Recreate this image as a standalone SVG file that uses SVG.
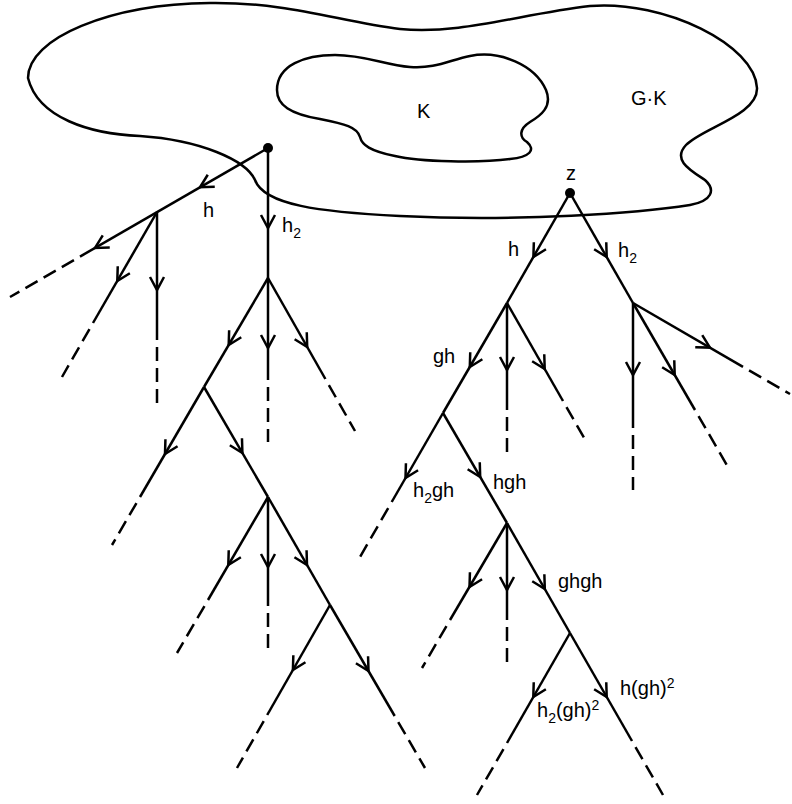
<svg xmlns="http://www.w3.org/2000/svg" xmlns:xlink="http://www.w3.org/1999/xlink" width="792" height="804" viewBox="0 0 792 804">
<style>
  .blob{fill:none;stroke:#000;stroke-width:2.5}
  .ln{stroke:#000;stroke-width:2.5;fill:none}
  .dash{stroke:#000;stroke-width:2.5;fill:none;stroke-dasharray:14 7;stroke-dashoffset:14}
  .ah{fill:none;stroke:#000;stroke-width:2.5}
  .lbl{font-family:"Liberation Sans",Arial,sans-serif;font-size:20px;fill:#000}
  .s{font-size:14px}
</style>
<defs>
  <path id="ah" class="ah" d="M-13,-7 L0,0 L-13,7"/>
</defs>
<rect width="792" height="804" fill="#fff"/>

<g id="region-GK">
  <path class="blob" d="M28,78 C28,38 110,4 210,3 C290,2 340,22 400,29 C460,35 520,14 590,6 C665,0 755,45 757,88 C758,115 702,128 686,145 C672,160 690,170 705,180 C716,190 712,201 690,205 C640,213 520,222 400,216 C320,212 264,205 255,180 C246,160 200,140 140,136 C90,134 38,118 28,78 Z"/>
  <text class="lbl" x="631" y="105">G·K</text>
</g>

<g id="region-K">
  <path class="blob" d="M277,90 C277,65 305,55 335,55 C365,55 385,65 410,67 C435,69 450,60 470,56 C500,50 535,65 546,90 C553,107 540,116 530,122 C519,129 519,137 527,142 C536,150 530,157 510,159 C480,163 420,162 395,156 C370,151 362,145 360,137 C357,127 345,124 320,119 C290,114 277,105 277,90 Z"/>
  <text class="lbl" x="417" y="118">K</text>
</g>

<g id="node-root">
  <circle cx="268" cy="148" r="5" fill="#000"/>
</g>

<g id="node-z">
  <circle cx="570" cy="193" r="5" fill="#000"/>
  <text class="lbl" x="566" y="180">z</text>
</g>

<g id="connectors">
  <!-- left tree -->
  <line class="ln" x1="268" y1="148" x2="80" y2="256.6"/>
  <line class="dash" x1="80" y1="256.6" x2="10" y2="297"/>
  <line class="ln" x1="157" y1="212" x2="157" y2="340"/>
  <line class="dash" x1="157" y1="340" x2="157" y2="403"/>
  <line class="ln" x1="157" y1="212" x2="93" y2="323"/>
  <line class="dash" x1="93" y1="323" x2="62" y2="377"/>
  <line class="ln" x1="268" y1="148" x2="268" y2="278"/>
  <line class="ln" x1="268" y1="278" x2="204" y2="387"/>
  <line class="ln" x1="268" y1="278" x2="268" y2="380"/>
  <line class="dash" x1="268" y1="380" x2="268" y2="442"/>
  <line class="ln" x1="268" y1="278" x2="325.4" y2="379"/>
  <line class="dash" x1="325.4" y1="379" x2="355" y2="431"/>
  <line class="ln" x1="204" y1="387" x2="140" y2="497"/>
  <line class="dash" x1="140" y1="497" x2="112" y2="545"/>
  <line class="ln" x1="204" y1="387" x2="268" y2="497"/>
  <line class="ln" x1="268" y1="497" x2="208" y2="600"/>
  <line class="dash" x1="208" y1="600" x2="177" y2="653"/>
  <line class="ln" x1="268" y1="497" x2="268" y2="606"/>
  <line class="dash" x1="268" y1="606" x2="268" y2="653"/>
  <line class="ln" x1="268" y1="497" x2="330" y2="605"/>
  <line class="ln" x1="330" y1="605" x2="267.2" y2="715"/>
  <line class="dash" x1="267.2" y1="715" x2="237" y2="768"/>
  <line class="ln" x1="330" y1="605" x2="394.7" y2="716"/>
  <line class="dash" x1="394.7" y1="716" x2="425" y2="768"/>
  <!-- right tree -->
  <line class="ln" x1="570" y1="193" x2="507" y2="303"/>
  <line class="ln" x1="570" y1="193" x2="633" y2="303"/>
  <line class="ln" x1="507" y1="303" x2="443" y2="413"/>
  <line class="ln" x1="507" y1="303" x2="507" y2="410"/>
  <line class="dash" x1="507" y1="410" x2="507" y2="452"/>
  <line class="ln" x1="507" y1="303" x2="563" y2="401"/>
  <line class="dash" x1="563" y1="401" x2="587" y2="443"/>
  <line class="ln" x1="633" y1="303" x2="633" y2="428"/>
  <line class="dash" x1="633" y1="428" x2="633" y2="490"/>
  <line class="ln" x1="633" y1="303" x2="695" y2="410"/>
  <line class="dash" x1="695" y1="410" x2="728" y2="467"/>
  <line class="ln" x1="633" y1="303" x2="743" y2="366.8"/>
  <line class="dash" x1="743" y1="366.8" x2="790" y2="394"/>
  <line class="ln" x1="443" y1="413" x2="391.7" y2="502"/>
  <line class="dash" x1="391.7" y1="502" x2="360" y2="557"/>
  <line class="ln" x1="443" y1="413" x2="507" y2="523"/>
  <line class="ln" x1="507" y1="523" x2="450" y2="620"/>
  <line class="dash" x1="450" y1="620" x2="422" y2="668"/>
  <line class="ln" x1="507" y1="523" x2="507" y2="620"/>
  <line class="dash" x1="507" y1="620" x2="507" y2="662"/>
  <line class="ln" x1="507" y1="523" x2="570" y2="633"/>
  <line class="ln" x1="570" y1="633" x2="507" y2="743"/>
  <line class="dash" x1="507" y1="743" x2="477" y2="795"/>
  <line class="ln" x1="570" y1="633" x2="632" y2="741"/>
  <line class="dash" x1="632" y1="741" x2="663" y2="795"/>

  <!-- arrowheads -->
  <use xlink:href="#ah" transform="translate(200,187.3) rotate(150)"/>
  <use xlink:href="#ah" transform="translate(95,247.9) rotate(150)"/>
  <use xlink:href="#ah" transform="translate(157,290) rotate(90)"/>
  <use xlink:href="#ah" transform="translate(117.3,281) rotate(120)"/>
  <use xlink:href="#ah" transform="translate(268,228) rotate(90)"/>
  <use xlink:href="#ah" transform="translate(228.7,345) rotate(120)"/>
  <use xlink:href="#ah" transform="translate(268,348) rotate(90)"/>
  <use xlink:href="#ah" transform="translate(307.2,347) rotate(60)"/>
  <use xlink:href="#ah" transform="translate(165,454) rotate(120)"/>
  <use xlink:href="#ah" transform="translate(242.4,453) rotate(60)"/>
  <use xlink:href="#ah" transform="translate(228.3,565) rotate(120)"/>
  <use xlink:href="#ah" transform="translate(268,567) rotate(90)"/>
  <use xlink:href="#ah" transform="translate(307,565) rotate(60)"/>
  <use xlink:href="#ah" transform="translate(292.9,670) rotate(120)"/>
  <use xlink:href="#ah" transform="translate(368.5,671) rotate(60)"/>
  <use xlink:href="#ah" transform="translate(533.4,257) rotate(120)"/>
  <use xlink:href="#ah" transform="translate(606.7,257) rotate(60)"/>
  <use xlink:href="#ah" transform="translate(469.8,367) rotate(120)"/>
  <use xlink:href="#ah" transform="translate(507,370) rotate(90)"/>
  <use xlink:href="#ah" transform="translate(544.7,369) rotate(60)"/>
  <use xlink:href="#ah" transform="translate(633,375) rotate(90)"/>
  <use xlink:href="#ah" transform="translate(674.7,375) rotate(60)"/>
  <use xlink:href="#ah" transform="translate(710,347.6) rotate(30)"/>
  <use xlink:href="#ah" transform="translate(405.5,478) rotate(120)"/>
  <use xlink:href="#ah" transform="translate(480.2,477) rotate(60)"/>
  <use xlink:href="#ah" transform="translate(469.5,587) rotate(120)"/>
  <use xlink:href="#ah" transform="translate(507,590) rotate(90)"/>
  <use xlink:href="#ah" transform="translate(544.8,589) rotate(60)"/>
  <use xlink:href="#ah" transform="translate(533.3,697) rotate(120)"/>
  <use xlink:href="#ah" transform="translate(606.7,697) rotate(60)"/>
</g>

<g id="labels">
  <text class="lbl" x="203" y="217">h</text>
  <text class="lbl" x="282" y="232">h<tspan class="s" dy="6">2</tspan></text>
  <text class="lbl" x="508" y="256">h</text>
  <text class="lbl" x="618" y="257">h<tspan class="s" dy="6">2</tspan></text>
  <text class="lbl" x="433" y="363">gh</text>
  <text class="lbl" x="413" y="497">h<tspan class="s" dy="6">2</tspan><tspan dy="-6">gh</tspan></text>
  <text class="lbl" x="493" y="489">hgh</text>
  <text class="lbl" x="558" y="588">ghgh</text>
  <text class="lbl" x="620" y="695">h(gh)<tspan class="s" dy="-7">2</tspan></text>
  <text class="lbl" x="537" y="717">h<tspan class="s" dy="6">2</tspan><tspan dy="-6">(gh)</tspan><tspan class="s" dy="-7">2</tspan></text>
</g>
</svg>
